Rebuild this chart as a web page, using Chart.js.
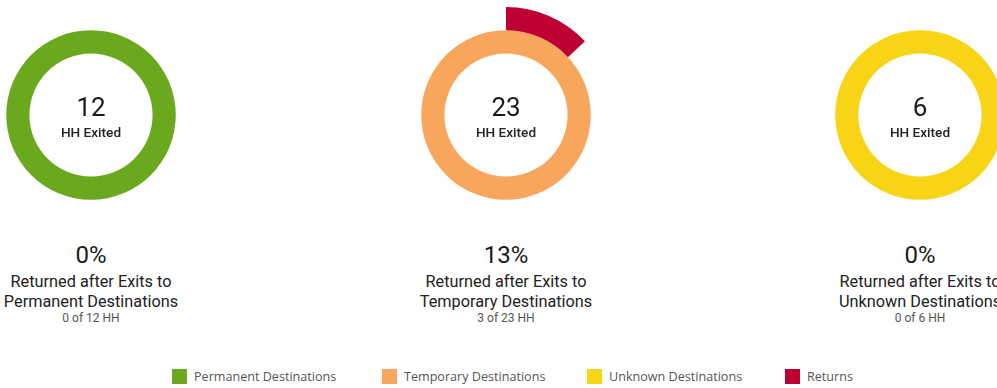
<!DOCTYPE html>
<html>
<head>
<meta charset="utf-8">
<script src="https://cdn.jsdelivr.net/npm/chart.js@4.4.1/dist/chart.umd.min.js"></script>
<style>
  html, body { margin: 0; padding: 0; background: #fff; }
  body { width: 997px; height: 388px; overflow: hidden; position: relative; font-family: Roboto, "Noto Sans", sans-serif; color: #222; }
  .col { position: absolute; top: 0; width: 300px; text-align: center; }
  .ring { position: absolute; top: 7px; left: 42px; width: 216px; height: 216px; }
  .center { position: absolute; left: 0; width: 300px; top: 92px; }
  .center .n { font-size: 26px; line-height: 30px; color: #1a1a1a; }
  .center .l { font-size: 13.6px; font-weight: 500; line-height: 16px; margin-top: 2px; color: #222; }
  .stats { position: absolute; left: 0; width: 300px; top: 241px; }
  .stats .pct { font-size: 24px; line-height: 28px; color: #1a1a1a; margin-bottom: 3px; }
  .stats .desc { font-size: 16.3px; line-height: 20px; color: #222; }
  .stats .cnt { font-size: 12px; line-height: 15px; color: #555; margin-top: -1px; }
  .legend { position: absolute; top: 369px; left: 0; width: 997px; height: 16px; }
  .legend .item { position: absolute; top: 0; display: flex; align-items: center; white-space: nowrap; }
  .legend .box { width: 15px; height: 15px; margin-right: 7px; }
  .legend .txt { font-family: "Open Sans", Roboto, sans-serif; font-size: 12.6px; color: #555; line-height: 15px; }
</style>
</head>
<body>
<div id="cols"></div>
<div class="legend" id="legend"></div>
<script>
// Households exited, by destination type
const destinations = ['Permanent Destinations', 'Temporary Destinations', 'Unknown Destinations'];
const exited = [12, 23, 6];
const returned = [0, 3, 0];
const colours = ['#6aa91e', '#f9a65d', '#f8d416'];
const returnsLabel = 'Returns';
const returnsColour = '#bf0032';

// layout: horizontal centre of each ring, left edge of each legend entry
const centreX = [91, 506, 920];
const legendX = [172, 382, 587, 785];

const cols = document.getElementById('cols');

destinations.forEach((dest, i) => {
  const col = document.createElement('div');
  col.className = 'col';
  col.style.left = (centreX[i] - 150) + 'px';
  const pct = exited[i] ? Math.round(returned[i] / exited[i] * 100) : 0;
  col.innerHTML =
    '<div class="ring"><canvas id="c' + i + '" width="216" height="216"></canvas></div>' +
    '<div class="center"><div class="n">' + exited[i] + '</div><div class="l">HH Exited</div></div>' +
    '<div class="stats"><div class="pct">' + pct + '%</div>' +
    '<div class="desc">Returned after Exits to</div>' +
    '<div class="desc">' + dest + '</div>' +
    '<div class="cnt">' + returned[i] + ' of ' + exited[i] + ' HH</div></div>';
  cols.appendChild(col);

  new Chart(document.getElementById('c' + i), {
    type: 'doughnut',
    data: {
      labels: [returnsLabel, dest],
      datasets: [
        {
          // outer ring: share of households that returned
          data: [returned[i], exited[i] - returned[i]],
          backgroundColor: [returnsColour, 'rgba(0,0,0,0)'],
          borderWidth: 0
        },
        {
          // inner ring: all households exited to this destination
          data: [0, exited[i]],
          backgroundColor: [returnsColour, colours[i]],
          borderWidth: 0
        }
      ]
    },
    options: {
      responsive: false,
      animation: false,
      cutout: '57%',
      layout: { padding: 0 },
      plugins: { legend: { display: false }, tooltip: { enabled: false } }
    }
  });
});

// Legend
const legend = document.getElementById('legend');
destinations.concat([returnsLabel]).forEach((name, i) => {
  const item = document.createElement('div');
  item.className = 'item';
  item.style.left = legendX[i] + 'px';
  const c = i < colours.length ? colours[i] : returnsColour;
  item.innerHTML = '<div class="box" style="background:' + c + '"></div><div class="txt">' + name + '</div>';
  legend.appendChild(item);
});
</script>
</body>
</html>
